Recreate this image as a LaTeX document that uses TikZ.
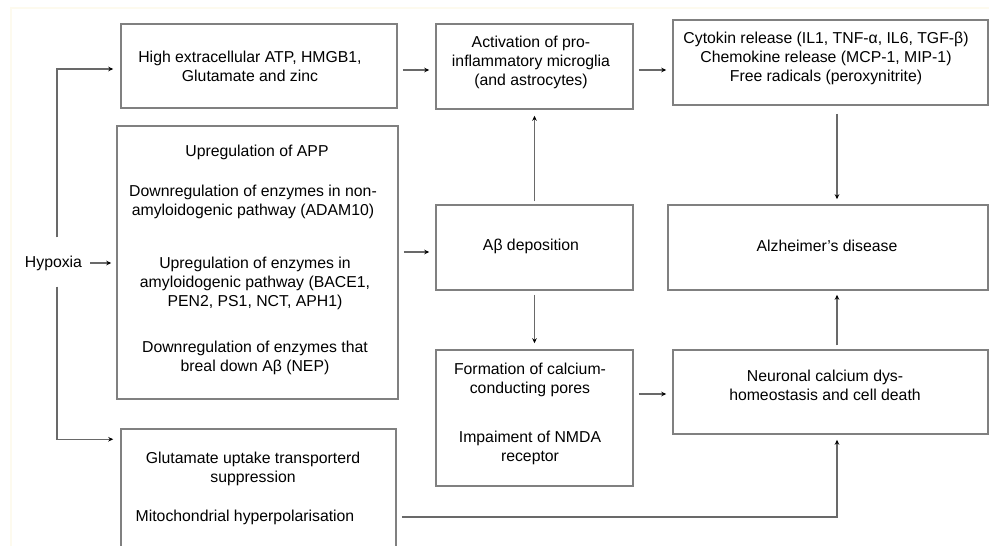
\documentclass[tikz,border=0pt]{standalone}
\usepackage{fontspec}
\setmainfont{Liberation Sans}
\usetikzlibrary{arrows.meta,calc}
\definecolor{boxgray}{RGB}{128,128,128}
\definecolor{linegray}{RGB}{105,105,105}
\definecolor{cream}{RGB}{253,250,238}
\begin{document}
\begin{tikzpicture}[x=1pt,y=-1pt,
  box/.style={draw=boxgray, line width=1.5pt, inner sep=0pt, fill=white},
  txt/.style={font=\fontsize{15.8}{19}\selectfont, align=center, inner sep=0pt, text=black},
  arr/.style={draw=linegray, line width=1.3pt, -{Stealth[length=5pt,width=4.5pt,black]}}]
\useasboundingbox (0,0) rectangle (989,546);
\fill[white] (0,0) rectangle (989,546);
\begin{scope}
\clip (0,0) rectangle (989,546);
\draw[cream, line width=2pt] (11,546) -- (11,8) -- (989,8);
% boxes
\node[box, minimum width=276, minimum height=84] (A) at (259,66) {};
\node[box, minimum width=281, minimum height=273] (B) at (257.5,262.5) {};
\node[box, minimum width=275, minimum height=141] (C) at (258.5,499.5) {};
\node[box, minimum width=197, minimum height=85] (D) at (534.5,66.5) {};
\node[box, minimum width=315, minimum height=85] (E) at (830.5,62.5) {};
\node[box, minimum width=197, minimum height=85] (F) at (534.5,247.5) {};
\node[box, minimum width=320, minimum height=85] (G) at (828,247.5) {};
\node[box, minimum width=197, minimum height=136] (H) at (534.5,418) {};
\node[box, minimum width=315, minimum height=84] (I) at (830.5,392) {};
% texts
\node[txt] (hyp) at (53.5,263) {Hypoxia};
\node[txt] (At) at (250,66) {High extracellular ATP, HMGB1,\\Glutamate and zinc};
\node[txt] (B1) at (257,152) {Upregulation of APP};
\node[txt] (B2) at (253,202) {Downregulation of enzymes in non-\\amyloidogenic pathway (ADAM10)};
\node[txt] (B3) at (255,283) {Upregulation of enzymes in\\amyloidogenic pathway (BACE1,\\PEN2, PS1, NCT, APH1)};
\node[txt] (B4) at (255,358) {Downregulation of enzymes that\\breal down Aβ (NEP)};
\node[txt] (C1) at (253,468.5) {Glutamate uptake transporterd\\suppression};
\node[txt] (C2) at (245,517) {Mitochondrial hyperpolarisation};
\node[txt] (Dt) at (531,62) {Activation of pro-\\inflammatory microglia\\(and astrocytes)};
\node[txt] (Et) at (826,58.5) {Cytokin release (IL1, TNF-α, IL6, TGF-β)\\Chemokine release (MCP-1, MIP-1)\\Free radicals (peroxynitrite)};
\node[txt] (Ft) at (531,246) {Aβ deposition};
\node[txt] (Gt) at (827,246) {Alzheimer’s disease};
\node[txt] (H1) at (530,379.5) {Formation of calcium-\\conducting pores};
\node[txt] (H2) at (530,447.5) {Impaiment of NMDA\\receptor};
\node[txt] (It) at (825,385) {Neuronal calcium dys-\\homeostasis and cell death};
% connectors
\draw[arr, shorten <=8pt, shorten >=5pt] (hyp.east) -- (hyp.east -| B.west);
\draw[arr, shorten >=7pt] ([xshift=3.5pt,yshift=18pt]hyp.north) |- ([yshift=-3pt]A.west);
\draw[arr, shorten >=7pt] ([xshift=3.5pt,yshift=-16pt]hyp.south) |- ([yshift=-11pt]C.north west);
\draw[arr, shorten <=5pt, shorten >=6pt] ([yshift=-4pt]A.east) -- ([yshift=-4pt]A.east -| D.west);
\draw[arr, shorten <=5pt, shorten >=6pt] ([yshift=-4.5pt]F.west -| B.east) -- ([yshift=-4.5pt]F.west);
\draw[arr, shorten <=3pt, shorten >=6pt] (F.north) -- (D.south);
\draw[arr, shorten <=5pt, shorten >=6pt] ([yshift=-3.5pt]D.east) -- ([yshift=-3.5pt]D.east -| E.west);
\draw[arr, shorten <=8pt, shorten >=5pt] ([xshift=6.5pt]E.south) -- ([xshift=6.5pt]E.south |- G.north);
\draw[arr, shorten <=4pt, shorten >=6pt] (F.south) -- (H.north);
\draw[arr, shorten <=5pt, shorten >=6pt] ([yshift=-2pt]I.west -| H.east) -- ([yshift=-2pt]I.west);
\draw[arr, shorten <=4pt, shorten >=4pt] ([xshift=6.5pt]I.north) -- ([xshift=6.5pt]I.north |- G.south);
\draw[arr, shorten <=5pt, shorten >=5pt] (C.east |- C2) -| ([xshift=6.5pt]I.south);
\end{scope}
\end{tikzpicture}
\end{document}
